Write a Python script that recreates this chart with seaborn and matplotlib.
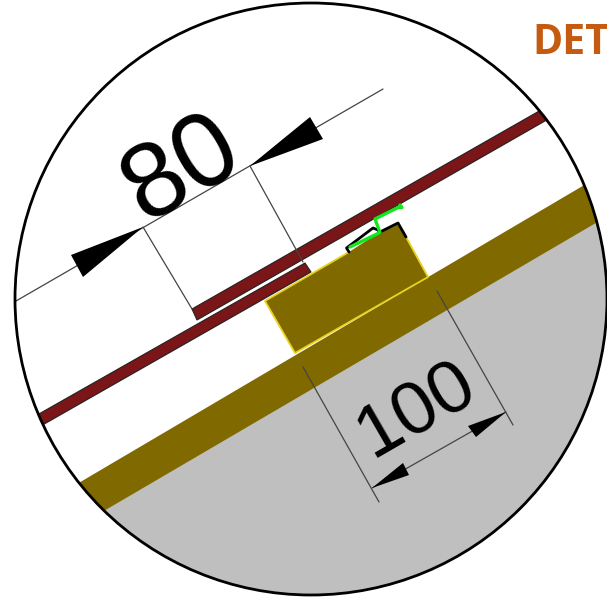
import matplotlib
matplotlib.use("Agg")
import matplotlib.pyplot as plt
from matplotlib.patches import Circle
import pandas as pd
import seaborn as sns

# Drawing geometry, in picture pixels
circle_center = (311, 299)
circle_radius = 296

ground_x = [40, 105, 582, 640, 640, 40]
ground_y = [526, 488, 208, 175, 620, 620]
band_x = [60, 620, 630, 85]
band_y = [494, 164, 203, 522]
sheet_lower_x = [20, 305, 311, 25]
sheet_lower_y = [424.7, 263, 272, 435]
sheet_upper_x = [192, 555, 560, 197]
sheet_upper_y = [309, 102, 112.4, 320]
block_x = [265, 349, 380, 398, 406, 428, 295]
block_y = [301, 252, 232, 223, 237, 277, 353]
block_edge_x = [[349, 265, 295, 428, 406]]
block_edge_y = [[252, 301, 353, 277, 237]]
black_x = [[349, 346.5, 373, 378, 380], [380, 398, 406]]
black_y = [[252, 248, 228, 230, 233], [232, 223, 237]]
green_x = [350, 380, 375, 398, 402, 400]
green_y = [247, 232.5, 219, 207.5, 207.5, 205]

dim_lines_x = [[16, 383], [143, 192], [250, 303], [303, 379], [437, 513], [372, 506]]
dim_lines_y = [[301, 89], [227, 309], [166, 262], [367, 502], [291, 425], [488, 412]]
arrow_x = [[143, 71, 83], [250, 310, 323], [372, 403, 409], [506, 468, 476]]
arrow_y = [[227, 255, 277], [166, 117, 139], [488, 463, 475], [412, 426, 437]]
dim_labels = ["80", "100"]
dim_label_x = [195.5, 426.5]
dim_label_y = [193.5, 427]
dim_label_size = [76, 54]
title_text = "DET"

sns.set_theme(style="white")
plt.rcParams["font.family"] = ["Liberation Sans", "DejaVu Sans"]

fig = plt.figure(figsize=(6.07, 5.99), dpi=100)
ax = fig.add_axes([0, 0, 1, 1])
ax.set_xlim(0, 607)
ax.set_ylim(599, 0)
ax.axis("off")

clip = Circle(circle_center, circle_radius, transform=ax.transData)
GOLD = "#806A00"
RED = "#7A1518"

def clipped_fill(x, y, **kw):
    for p in ax.fill(x, y, **kw):
        p.set_clip_path(clip)

clipped_fill(ground_x, ground_y, color="#BFBFBF", lw=0, zorder=1)
clipped_fill(band_x, band_y, color=GOLD, lw=0, zorder=2)
clipped_fill(sheet_lower_x, sheet_lower_y, facecolor=RED, edgecolor="#222222", lw=0.8, zorder=3)
clipped_fill(sheet_upper_x, sheet_upper_y, facecolor=RED, edgecolor="#222222", lw=0.8, zorder=3)
clipped_fill(block_x, block_y, color=GOLD, lw=0, zorder=2.5)

def draw_line(x, y, color, lw, z):
    df = pd.DataFrame({"x": x, "y": y})
    sns.lineplot(data=df, x="x", y="y", sort=False, estimator=None, color=color,
                 lw=lw, zorder=z, ax=ax, legend=False)

for x, y in zip(block_edge_x, block_edge_y):
    draw_line(x, y, "#E8D21A", 1.3, 2.6)
for x, y in zip(dim_lines_x, dim_lines_y):
    draw_line(x, y, "#444444", 0.9, 4)
for x, y in zip(black_x, black_y):
    draw_line(x, y, "black", 2.0, 5)
draw_line(green_x, green_y, "#14E61E", 2.4, 6)
for x, y in zip(arrow_x, arrow_y):
    ax.fill(x, y, color="black", lw=0, zorder=7)

ax.add_patch(Circle(circle_center, circle_radius, fill=False, edgecolor="black", lw=2, zorder=8))

for s, x, y, fs in zip(dim_labels, dim_label_x, dim_label_y, dim_label_size):
    ax.text(x, y, s, fontsize=fs, rotation=30, rotation_mode="anchor",
            ha="center", va="baseline", color="black", zorder=9)
ax.text(532, 53.5, title_text, fontsize=29.5, fontweight="bold", family="Open Sans",
        color="#C55A11", ha="left", va="baseline", zorder=9)
ax.set_xlim(0, 607)
ax.set_ylim(599, 0)
ax.set_xlabel("")
ax.set_ylabel("")
fig.savefig("out.png", dpi=100)
